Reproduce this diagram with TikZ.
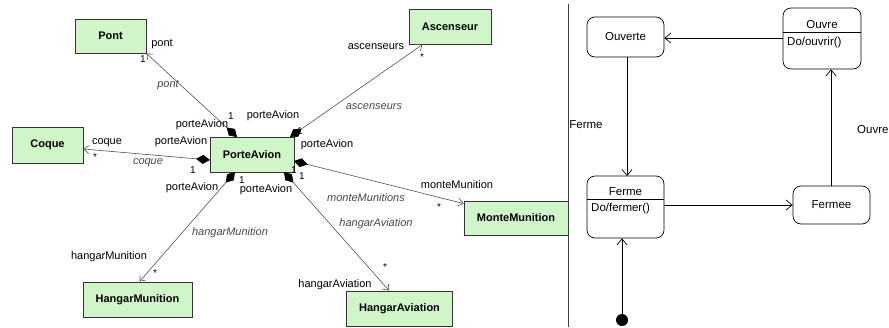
\documentclass[tikz,border=0pt]{standalone}
\usepackage{fontspec}
\setmainfont{Liberation Sans}
\usetikzlibrary{arrows.meta}
\definecolor{boxgreen}{RGB}{208,245,200}
\definecolor{lnk}{RGB}{80,80,80}
\definecolor{ital}{RGB}{70,70,70}
\begin{document}
\begin{tikzpicture}[x=1pt,y=-1pt,
  cls/.style={draw=black!80, fill=boxgreen, line width=0.9pt, inner sep=0pt,
    font=\fontsize{11}{13}\selectfont\bfseries},
  assoc/.style={draw=lnk, line width=0.6pt,
    {Diamond[length=14pt,width=9pt,color=black]}-{Straight Barb[length=5pt,width=8pt]}},
  role/.style={inner sep=0pt, font=\fontsize{11}{13}\selectfont},
  irole/.style={inner sep=0pt, text=ital, font=\fontsize{11}{13}\selectfont\itshape},
  mult/.style={inner sep=0pt, font=\fontsize{10}{12}\selectfont},
  st/.style={draw=black, line width=0.7pt, rounded corners=8pt, inner sep=0pt},
  stxt/.style={inner sep=0pt, font=\fontsize{11.5}{13}\selectfont},
  trans/.style={draw=black, line width=0.7pt, -{Straight Barb[length=6pt,width=10pt]}}
]
\useasboundingbox (0,0) rectangle (889,327);

% ---------- class diagram ----------
\node[cls, minimum width=71pt, minimum height=34pt] (Pont) at (110.5,36) {Pont};
\node[cls, minimum width=71pt, minimum height=36pt] (Coque) at (47.5,145) {Coque};
\node[cls, minimum width=84pt, minimum height=35pt] (PA) at (252,154.5) {PorteAvion};
\node[cls, minimum width=82pt, minimum height=35pt] (Asc) at (450,26.5) {Ascenseur};
\node[cls, minimum width=104pt, minimum height=34pt] (MM) at (516,218) {MonteMunition};
\node[cls, minimum width=109pt, minimum height=35pt] (HM) at (137.5,299.5) {HangarMunition};
\node[cls, minimum width=106pt, minimum height=35pt] (HA) at (399.5,308.5) {HangarAviation};

\coordinate (paPont) at (237,137);
\coordinate (paAsc) at (290,137);
\coordinate (paCoque) at (210,160);
\coordinate (paMM) at (294,161);
\coordinate (paHM) at (235,172);
\coordinate (paHA) at (284,172);

\draw[assoc] (paPont) -- (Pont.south east);
\draw[assoc] (paAsc) -- ([xshift=14pt]Asc.south west);
\draw[assoc] (paCoque) -- ([yshift=-4pt]Coque.east);
\draw[assoc] (paMM) -- ([yshift=-3pt]MM.north west);
\draw[assoc] (paHM) -- ([xshift=57pt]HM.north west);
\draw[assoc] (paHA) -- ([xshift=43pt]HA.north west);

% Pont labels
\node[role] (lp1) at (162,44) {pont};
\node[mult] (lp2) at (143,59) {1};
\node[irole] (lp3) at (168,85) {pont};
\node[mult] (lp4) at (231,116) {1};
\node[role] (lp5) at (202,125) {porteAvion};
% Ascenseur labels
\node[role] (la1) at (376,47) {ascenseurs};
\node[mult] (la2) at (422,57) {*};
\node[irole] (la3) at (374,107) {ascenseurs};
\node[role] (la4) at (273,116) {porteAvion};
\node[mult] (la5) at (300,131) {1};
% Coque labels
\node[role] (lc1) at (107,143) {coque};
\node[mult] (lc2) at (95,157) {*};
\node[role] (lc3) at (181,142) {porteAvion};
\node[irole] (lc4) at (148,163) {coque};
\node[mult] (lc5) at (193,170) {1};
% MonteMunition labels
\node[role] (lm1) at (327,145) {porteAvion};
\node[mult] (lm2) at (294,170) {1};
\node[role] (lm3) at (457,185) {monteMunition};
\node[mult] (lm4) at (439,207) {*};
\node[irole] (lm5) at (366,198) {monteMunitions};
% HangarMunition labels
\node[role] (lh1) at (192,188) {porteAvion};
\node[mult] (lh2) at (242,180) {1};
\node[irole] (lh3) at (230,233) {hangarMunition};
\node[role] (lh4) at (109,257) {hangarMunition};
\node[mult] (lh5) at (155,273) {*};
% HangarAviation labels
\node[role] (lv1) at (266,190) {porteAvion};
\node[mult] (lv2) at (302,176) {1};
\node[irole] (lv3) at (376,224) {hangarAviation};
\node[role] (lv4) at (335,285) {hangarAviation};
\node[mult] (lv5) at (385,267) {*};

% separator
\draw[draw=black!75, line width=0.8pt] (568,4) -- (568,327);

% ---------- state diagram ----------
\node[st, minimum width=77pt, minimum height=40pt] (ouverte) at (625.5,37) {};
\node[stxt] at (ouverte.center) {Ouverte};
\node[st, minimum width=78pt, minimum height=61pt] (ouvre) at (822,38.5) {};
\draw[line width=0.7pt] (783,32) -- (861,32);
\node[stxt] (ouvreT) at (822,25) {Ouvre};
\node[stxt, anchor=west] (ouvreD) at (787,43) {Do/ouvrir()};
\node[st, minimum width=77pt, minimum height=62pt] (ferme) at (625.5,207) {};
\draw[line width=0.7pt] (587,199) -- (664,199);
\node[stxt] (fermeT) at (625.5,192) {Ferme};
\node[stxt, anchor=west] (fermeD) at (591,209) {Do/fermer()};
\node[st, minimum width=77pt, minimum height=38pt] (fermee) at (831.5,205) {};
\node[stxt] at (fermee.center) {Fermee};
\node[circle, fill=black, inner sep=0pt, minimum size=12pt] (init) at (622,320) {};

\coordinate (fA) at (627,57);
\coordinate (fB) at (627,176);
\draw[trans] (ouvre.west |- 0,38) -- (ouverte.east |- 0,38);
\draw[trans] (fA) -- (fB);
\draw[trans] (ferme.east |- 0,205) -- (fermee.west |- 0,205);
\draw[trans] (fermee.north -| 831,0) -- (ouvre.south -| 831,0);
\draw[trans] (init) -- (init |- ferme.south);

\node[stxt] (lblFerme) at (586,125) {Ferme};
\node[stxt, anchor=west] (lblOuvre) at (857,130) {Ouvre};
\end{tikzpicture}
\end{document}
